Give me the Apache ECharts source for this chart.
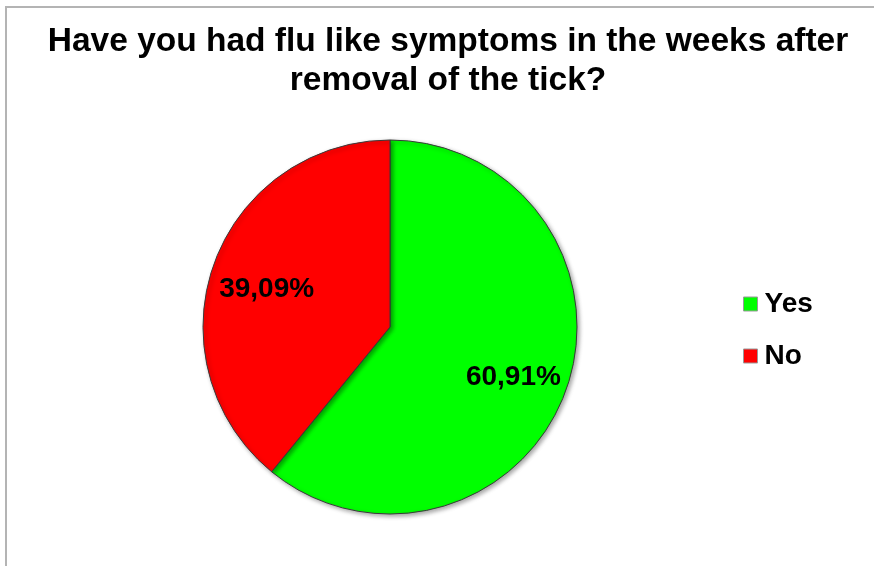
<!DOCTYPE html>
<html>
<head>
<meta charset="utf-8">
<script src="https://cdn.jsdelivr.net/npm/echarts@6/dist/echarts.min.js"></script>
<style>
  html, body { margin: 0; padding: 0; background: #fff; }
  #chart { width: 874px; height: 566px; }
</style>
</head>
<body>
<div id="chart"></div>
<script>
var categories = ['Yes', 'No'];
var values = [60.91, 39.09];
var colors = ['#00ff00', '#ff0000'];

var myChart = echarts.init(document.getElementById('chart'));

var pieData = categories.map(function (name, i) {
    return { name: name, value: values[i], itemStyle: { color: colors[i] } };
});

var option = {
    backgroundColor: '#fff',
    animation: false,
    graphic: [{
        type: 'rect',
        shape: { x: 6, y: 7, width: 900, height: 600 },
        style: { fill: 'none', stroke: '#b4b4b4', lineWidth: 2 },
        silent: true
    }],
    title: {
        text: 'Have you had flu like symptoms in the weeks after\nremoval of the tick?',
        left: 443,
        top: 17,
        textAlign: 'center',
        textStyle: {
            fontFamily: 'Liberation Sans',
            fontWeight: 'bold',
            fontSize: 33.5,
            lineHeight: 39,
            color: '#000'
        }
    },
    legend: {
        orient: 'vertical',
        left: 738,
        top: 285,
        icon: 'rect',
        itemWidth: 14,
        itemHeight: 14,
        itemGap: 24,
        selectedMode: false,
        data: categories,
        itemStyle: { borderColor: '#999', borderWidth: 1 },
        textStyle: {
            fontFamily: 'Liberation Sans',
            fontWeight: 'bold',
            fontSize: 28,
            color: '#000',
            padding: [0, 0, 0, 2]
        }
    },
    series: [
        {
            type: 'pie',
            center: [390, 327],
            radius: [0, 187],
            startAngle: 90,
            clockwise: true,
            silent: true,
            label: { show: false },
            labelLine: { show: false },
            itemStyle: {
                borderColor: '#3a3a3a',
                borderWidth: 1,
                shadowColor: 'rgba(0,0,0,0.35)',
                shadowBlur: 4,
                shadowOffsetX: 2,
                shadowOffsetY: 2
            },
            data: pieData
        },
        {
            // transparent ring only used to place labels further out
            type: 'pie',
            center: [390, 327],
            radius: [80, 176],
            startAngle: 90,
            clockwise: true,
            silent: true,
            itemStyle: { color: 'rgba(0,0,0,0)' },
            label: {
                show: true,
                position: 'inside',
                offset: [0, 6],
                formatter: function (p) {
                    return p.value.toFixed(2).replace('.', ',') + '%';
                },
                fontFamily: 'Liberation Sans',
                fontWeight: 'bold',
                fontSize: 28,
                color: '#000'
            },
            labelLine: { show: false },
            data: categories.map(function (name, i) {
                return { name: name, value: values[i], itemStyle: { color: 'rgba(0,0,0,0)' } };
            })
        }
    ]
};

myChart.setOption(option);
</script>
</body>
</html>
